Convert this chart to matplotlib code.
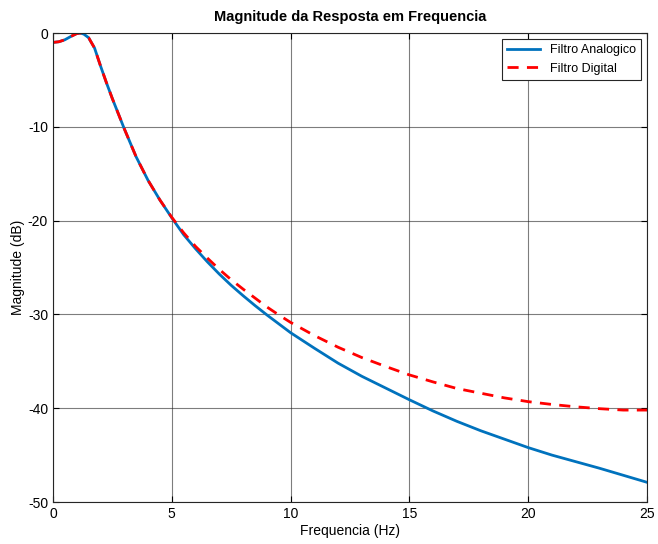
import matplotlib
matplotlib.use('Agg')
import matplotlib.pyplot as plt

plt.rcParams['font.family'] = ['Liberation Sans', 'DejaVu Sans']
plt.rcParams['axes.unicode_minus'] = False

# valores (ate 5 Hz as duas curvas coincidem)
freq_baixa = [0, 0.25, 0.5, 0.75, 1.0, 1.15, 1.3, 1.5, 1.75, 2.0, 2.25, 2.5, 2.75,
              3.0, 3.5, 4.0, 4.5]
mag_baixa = [-1.0, -0.93, -0.72, -0.37, -0.06, 0.0, -0.12, -0.5, -1.6, -3.5, -5.3, -7.0, -8.6,
             -10.2, -13.2, -15.7, -17.8]

freq_alta = [5, 5.5, 6, 6.5, 7, 7.5, 8, 8.5, 9, 9.5, 10, 11, 12, 13, 14, 15, 16, 17,
             18, 19, 20, 21, 22, 23, 24, 25]
mag_analog_alta = [-19.7, -21.5, -23.0, -24.4, -25.7, -26.9, -28.0, -29.05, -30.05, -31.0,
                   -31.95, -33.6, -35.2, -36.6, -37.85, -39.1, -40.3, -41.4, -42.4, -43.3,
                   -44.2, -45.0, -45.7, -46.4, -47.15, -47.9]
mag_digital_alta = [-19.65, -21.3, -22.75, -24.0, -25.2, -26.3, -27.3, -28.25, -29.2, -30.05,
                    -30.85, -32.25, -33.5, -34.6, -35.55, -36.45, -37.2, -37.9, -38.4, -38.9,
                    -39.3, -39.6, -39.85, -40.05, -40.2, -40.2]

freq = freq_baixa + freq_alta
mag_analog = mag_baixa + mag_analog_alta
mag_digital = mag_baixa + mag_digital_alta

fig = plt.figure(figsize=(6.58, 5.44), dpi=100)
ax = fig.add_axes([0.0805, 0.0772, 0.9028, 0.8621])

ax.plot(freq, mag_analog, color='#0072BD', linewidth=2, label='Filtro Analogico')
ax.plot(freq, mag_digital, color='red', linestyle='--', dashes=(4, 3), linewidth=2,
        label='Filtro Digital')

ax.set_xlim(0, 25)
ax.set_ylim(-50, 0)
ax.set_xticks([0, 5, 10, 15, 20, 25])
ax.set_yticks([-50, -40, -30, -20, -10, 0])
ax.tick_params(direction='in', labelsize=10, length=4, top=True, right=True)
ax.grid(True, color='#262626', alpha=0.6, linewidth=0.8)
for s in ax.spines.values():
    s.set_color('#262626')
    s.set_linewidth(0.8)

ax.set_xlabel('Frequencia (Hz)', fontsize=10, labelpad=2)
ax.set_ylabel('Magnitude (dB)', fontsize=10, labelpad=2)
ax.set_title('Magnitude da Resposta em Frequencia', fontsize=10.5, fontweight='bold', pad=9)

leg = ax.legend(loc='upper right', fontsize=9, fancybox=False, framealpha=1,
                edgecolor='#262626', handlelength=2.6, borderpad=0.4)
leg.get_frame().set_linewidth(0.8)

fig.savefig('out.png', dpi=100)
